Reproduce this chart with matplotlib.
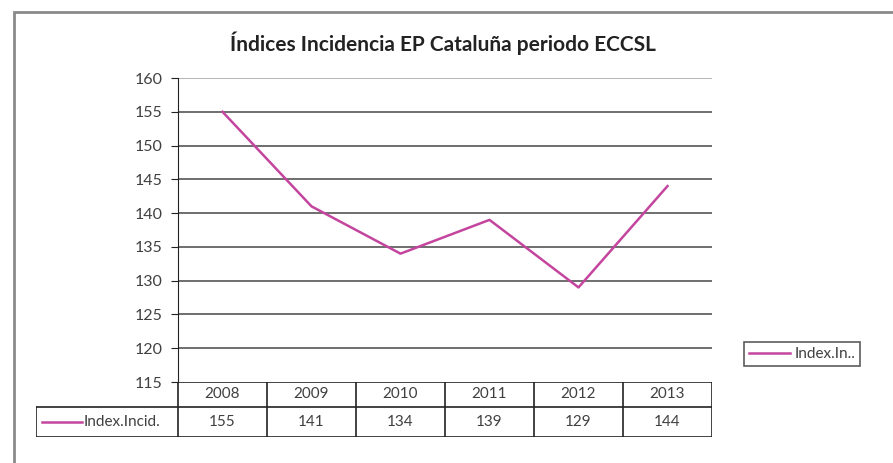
import matplotlib
matplotlib.use("Agg")
import matplotlib.pyplot as plt
from matplotlib.patches import Rectangle
from matplotlib.lines import Line2D

# data
years = ["2008", "2009", "2010", "2011", "2012", "2013"]
index_incid = [155, 141, 134, 139, 129, 144]
series_name = "Index.Incid."
legend_label = "Index.In.."
title = "Índices Incidencia EP Cataluña periodo ECCSL"
yticks = [115, 120, 125, 130, 135, 140, 145, 150, 155, 160]

W, H = 893, 463
plt.rcParams['font.family'] = ['Lato', 'DejaVu Sans']
txt = '#404040'
pink = '#C4459E'

fig = plt.figure(figsize=(W / 100, H / 100), dpi=100)

def box(x0, y0, x1, y1):
    # pixel box (top-left origin) -> figure fraction
    return [x0 / W, 1 - y1 / H, (x1 - x0) / W, (y1 - y0) / H]

# outer chart frame (cut off at right and bottom)
fig.patches.append(Rectangle((14 / W, -0.1), 1.2, 1 - 12 / H + 0.1,
                             transform=fig.transFigure, fill=False,
                             edgecolor='#8a8a8a', lw=2))

px0, px1, py0, py1 = 178, 712, 78, 382
ax = fig.add_axes(box(px0, py0, px1, py1))
x = list(range(len(years)))
ax.plot(x, index_incid, color=pink, lw=1.8, zorder=3)
ax.set_xlim(-0.5, len(years) - 0.5)
ax.set_ylim(115, 160)
ax.set_yticks(yticks)
for v in yticks[1:]:
    ax.axhline(v, color='#a8a8a8' if v == yticks[-1] else '#555555',
               lw=1.2, zorder=1)
ax.set_xticks([])
for s in ['top', 'right', 'bottom']:
    ax.spines[s].set_visible(False)
ax.spines['left'].set_color('#222222')
ax.tick_params(axis='y', direction='out', length=5, color='#222222',
               labelsize=11.5, labelcolor=txt, pad=6)

fig.text((px0 + px1) / 2 / W - 2 / W, 1 - 43 / H, title, ha='center', va='center',
         fontsize=15, fontweight='bold', color='#222222')

# data table below the plot area
tx0, ty0, ty1 = 36, 382, 437
unit = (px1 - px0) / len(years)
tax = fig.add_axes(box(tx0, ty0, px1, ty1))
tax.set_xlim(-0.5 - (px0 - tx0) / unit, len(years) - 0.5)
tax.set_ylim(0, 2.2)
tax.axis('off')
lc = '#222222'
lx = tax.get_xlim()[0]
tax.plot([-0.5, len(years) - 0.5], [2.2, 2.2], color=lc, lw=1.2)
tax.plot([lx, len(years) - 0.5], [1.2, 1.2], color=lc, lw=1.2)
tax.plot([lx, len(years) - 0.5], [0, 0], color=lc, lw=1.2)
tax.plot([lx] * 2, [0, 1.2], color=lc, lw=1.2)
for i in range(len(years) + 1):
    tax.plot([i - 0.5, i - 0.5], [0, 2.2], color=lc, lw=1.2)
for i, (yr, v) in enumerate(zip(years, index_incid)):
    tax.text(i, 1.7, yr, ha='center', va='center', fontsize=11, color=txt)
    tax.text(i, 0.6, str(v), ha='center', va='center', fontsize=11, color=txt)
tax.plot([lx + 0.07, lx + 0.52], [0.6, 0.6], color=pink, lw=1.8)
tax.text(lx + 0.54, 0.6, series_name, ha='left', va='center', fontsize=11, color=txt)

# legend
leg = fig.legend(handles=[Line2D([], [], color=pink, lw=1.8)], labels=[legend_label],
                 loc='center', bbox_to_anchor=((737 + 867) / 2 / W, 1 - 354 / H),
                 frameon=True, fancybox=False, fontsize=11, handlelength=2.7,
                 handletextpad=0.3, borderpad=0.3, labelcolor=txt)
leg.get_frame().set_edgecolor('#333333')
leg.get_frame().set_linewidth(1.2)

fig.savefig("out.png", dpi=100)
